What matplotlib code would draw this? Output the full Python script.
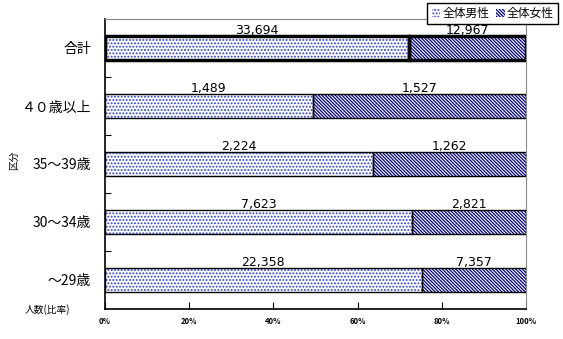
import numpy as np
import matplotlib
matplotlib.use("Agg")
import matplotlib.pyplot as plt
from matplotlib.patches import Patch

plt.rcParams['font.family'] = ['Noto Sans CJK JP', 'DejaVu Sans']
plt.rcParams['hatch.linewidth'] = 0.9

# data (top to bottom)
categories = ['合計', '４０歳以上', '35～39歳', '30～34歳', '～29歳']
male = [33694, 1489, 2224, 7623, 22358]
female = [12967, 1527, 1262, 2821, 7357]
series_names = ['全体男性', '全体女性']
xticks = [0, 20, 40, 60, 80, 100]

male = np.array(male, dtype=float)
female = np.array(female, dtype=float)
total = male + female
male_pct = male / total * 100
female_pct = female / total * 100

fig = plt.figure(figsize=(5.63, 3.39), dpi=100)
ax = fig.add_axes([0.1865, 0.0885, 0.7475, 0.8555])

y = np.arange(len(categories))
h = 0.41
blue = '#2a3fd0'
navy = '#000080'
dots = '.....'
lines = '\\' * 10

# fills with hatch
ax.barh(y, male_pct, height=h, color='white', edgecolor=blue, hatch=dots, linewidth=0)
ax.barh(y, female_pct, left=male_pct, height=h, color='white', edgecolor=navy, hatch=lines, linewidth=0)
# outlines
lws = [2.5] + [1.0] * (len(categories) - 1)
ax.barh(y, male_pct, height=h, color='none', edgecolor='black', linewidth=lws)
ax.barh(y, female_pct, left=male_pct, height=h, color='none', edgecolor='black', linewidth=lws)

for i in range(len(categories)):
    ax.text(male_pct[i] / 2, y[i] - h / 2 + 0.02, f'{int(male[i]):,}', ha='center', va='bottom', fontsize=9,
            family='DejaVu Sans')
    ax.text(male_pct[i] + female_pct[i] / 2, y[i] - h / 2 + 0.02, f'{int(female[i]):,}', ha='center',
            va='bottom', fontsize=9, family='DejaVu Sans')

ax.set_xlim(0, 100)
ax.set_ylim(len(categories) - 0.5, -0.5)
ax.set_yticks(y)
ax.set_yticklabels(categories, fontsize=10)
ax.set_yticks(np.arange(len(categories) - 1) + 0.5, minor=True)
ax.tick_params(axis='y', which='major', length=0, pad=10)
ax.tick_params(axis='y', which='minor', direction='in', length=4, width=0.8)
ax.set_xticks(xticks)
ax.set_xticklabels([f'{v}%' for v in xticks], fontsize=5.5, fontweight='bold')
ax.tick_params(axis='x', direction='in', length=5, width=0.8, pad=6)

ax.spines['top'].set_color('#888888')
ax.spines['right'].set_color('#888888')
for s in ['left', 'bottom']:
    ax.spines[s].set_linewidth(1.2)

fig.text(14 / 563, 1 - 160 / 339, '区分', rotation=90, ha='center', va='center', fontsize=7)
fig.text(47 / 563, 1 - 310 / 339, '人数(比率)', ha='center', va='center', fontsize=7)

handles = [Patch(facecolor='white', edgecolor=blue, hatch=dots, linewidth=0),
           Patch(facecolor='white', edgecolor=navy, hatch=lines, linewidth=0)]
leg = fig.legend(handles, series_names, loc='upper right', bbox_to_anchor=(558 / 563, 1 - 3 / 339), ncol=2,
                 fontsize=8.5, frameon=True, fancybox=False, edgecolor='black', handlelength=0.7,
                 handleheight=0.7, handletextpad=0.2, columnspacing=0.6, borderpad=0.35, borderaxespad=0,
                 framealpha=1)
leg.get_frame().set_linewidth(1.0)

fig.savefig('out.png', dpi=100)
